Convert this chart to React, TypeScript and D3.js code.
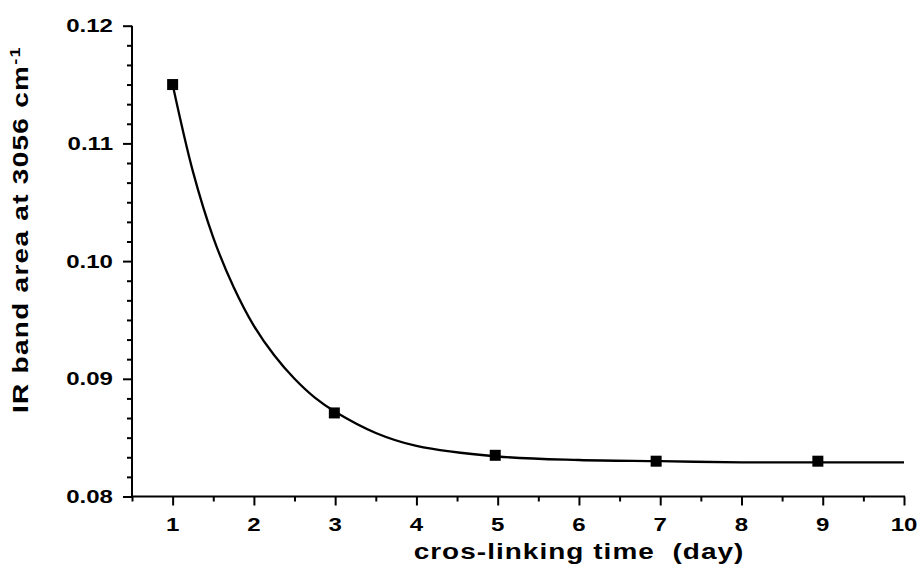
import { useRef, useEffect } from 'react';
import * as d3 from 'd3';

// measured points (day, band area)
const days = [1, 2.99, 4.97, 6.95, 8.94];
const bandArea = [0.115, 0.0871, 0.0835, 0.0830, 0.0830];

// exponential decay fit line
const fitDays = [1, 1.25, 1.5, 1.75, 2, 2.25, 2.5, 2.75, 3, 3.5, 4, 5, 6, 7, 8, 9, 10];
const fitArea = [0.115, 0.1076, 0.1020, 0.0978, 0.0945, 0.0920, 0.0900, 0.0884, 0.0872, 0.0854, 0.0843, 0.0834, 0.0831, 0.0830, 0.0829, 0.0829, 0.0829];

const xTicks = [1, 2, 3, 4, 5, 6, 7, 8, 9, 10];
const yTicks = [0.08, 0.09, 0.10, 0.11, 0.12];

const WIDTH = 917;
const HEIGHT = 574;
const FONT = 'Liberation Sans, Arial, sans-serif';
const STRETCH = 1.3; // the original font is drawn wide

export default function App() {
  const svgRef = useRef<SVGSVGElement | null>(null);

  useEffect(() => {
    if (!svgRef.current) return;
    const svg = d3.select(svgRef.current);
    svg.selectAll('*').remove();

    const left = 132, right = 904, top = 25.7, bottom = 496.5;

    const x = d3.scaleLinear().domain([0.5, 10]).range([left, right]);
    const y = d3.scaleLinear().domain([0.08, 0.12]).range([bottom, top]);

    // minor ticks
    const xMinor = d3.range(0.5, 10, 1);
    const yMinor = d3.range(0, 24).map((i) => 0.08 + (i * 0.01) / 6).filter((v) => Math.abs(v * 100 - Math.round(v * 100)) > 1e-6);

    const axisStyle = (g: d3.Selection<SVGGElement, unknown, null, undefined>) => {
      g.select('.domain').remove();
      g.selectAll('line').attr('stroke', '#000').attr('stroke-width', 2);
      g.selectAll('text').remove();
    };

    svg.append('g')
      .attr('transform', `translate(0,${bottom})`)
      .call(d3.axisBottom(x).tickValues(xMinor).tickSize(5))
      .call(axisStyle);

    svg.append('g')
      .attr('transform', `translate(${left},0)`)
      .call(d3.axisLeft(y).tickValues(yMinor).tickSize(5))
      .call(axisStyle);

    svg.append('g')
      .attr('transform', `translate(0,${bottom})`)
      .call(d3.axisBottom(x).tickValues(xTicks).tickSize(9))
      .call(axisStyle);

    svg.append('g')
      .attr('transform', `translate(${left},0)`)
      .call(d3.axisLeft(y).tickValues(yTicks).tickSize(9))
      .call(axisStyle);

    // tick labels (stretched horizontally)
    svg.append('g')
      .selectAll('text')
      .data(xTicks)
      .join('text')
      .attr('transform', (d) => `translate(${x(d)},531) scale(${STRETCH},1)`)
      .attr('text-anchor', 'middle')
      .attr('font-family', FONT)
      .attr('font-weight', 'bold')
      .attr('font-size', 18.5)
      .text(d3.format('d'));

    svg.append('g')
      .selectAll('text')
      .data(yTicks)
      .join('text')
      .attr('transform', (d) => `translate(113,${y(d)}) scale(${STRETCH},1)`)
      .attr('text-anchor', 'end')
      .attr('dy', '0.36em')
      .attr('font-family', FONT)
      .attr('font-weight', 'bold')
      .attr('font-size', 18.5)
      .text(d3.format('.2f'));

    // spines
    svg.append('line')
      .attr('x1', left).attr('x2', left)
      .attr('y1', top).attr('y2', bottom + 1)
      .attr('stroke', '#000').attr('stroke-width', 2);
    svg.append('line')
      .attr('x1', left - 1).attr('x2', right + 1)
      .attr('y1', bottom).attr('y2', bottom)
      .attr('stroke', '#000').attr('stroke-width', 2);

    // fit curve
    const line = d3.line<number>()
      .x((_, i) => x(fitDays[i]))
      .y((d) => y(d))
      .curve(d3.curveCatmullRom.alpha(0.5));

    svg.append('path')
      .datum(fitArea)
      .attr('d', line)
      .attr('fill', 'none')
      .attr('stroke', '#000')
      .attr('stroke-width', 2.3);

    // markers
    const size = 11;
    svg.selectAll('.pt')
      .data(days)
      .join('rect')
      .attr('class', 'pt')
      .attr('x', (d) => x(d) - size / 2)
      .attr('y', (_, i) => y(bandArea[i]) - size / 2)
      .attr('width', size)
      .attr('height', size)
      .attr('fill', '#000');

    // axis titles
    svg.append('text')
      .attr('transform', `translate(579,559) scale(${STRETCH},1)`)
      .attr('text-anchor', 'middle')
      .attr('font-family', FONT)
      .attr('font-weight', 'bold')
      .attr('font-size', 21.5)
      .attr('letter-spacing', 0.8)
      .text('cros-linking time\u00a0 (day)');

    const yTitle = svg.append('text')
      .attr('transform', `translate(28,413) rotate(-90) scale(${STRETCH},1)`)
      .attr('font-family', FONT)
      .attr('font-weight', 'bold')
      .attr('font-size', 21.5)
      .attr('letter-spacing', 1);
    yTitle.append('tspan').text('IR band area at 3056 cm');
    yTitle.append('tspan').attr('font-size', 14).attr('dy', -8).text('-1');
  }, []);

  return (
    <svg
      ref={svgRef}
      width={WIDTH}
      height={HEIGHT}
      style={{ position: 'fixed', left: 0, top: 0, background: '#fff' }}
    />
  );
}
